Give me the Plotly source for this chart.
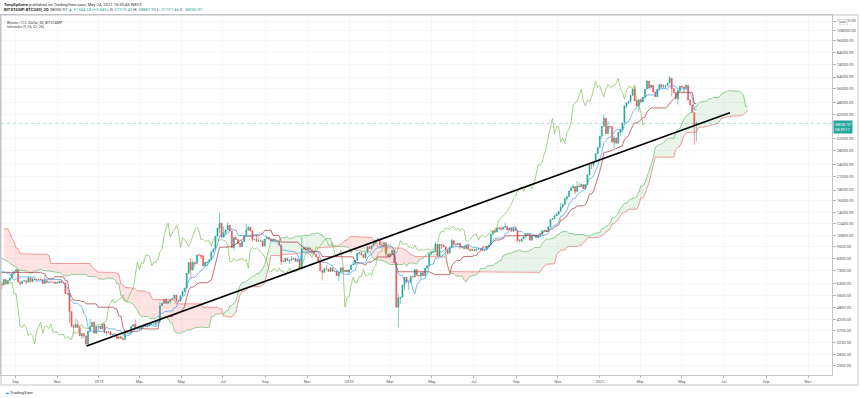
import numpy as np
import pandas as pd
import plotly.graph_objects as go

# ---------------- daily closes (BITSTAMP BTCUSD), read/estimated ----------------
close_2018 = [
    13400,14750,15150,15150,16900,17100,16200,15000,14400,14900,13300,13800,14200,13600,13600,11400,11150,11250,11500,12800,11500,10800,10900,11400,11200,11100,11500,11800,11200,10100,10200,
    9100,8900,9200,8200,6900,7700,7600,8200,8700,8500,8100,8900,8500,9500,10000,10200,11100,10400,11200,11400,10500,9800,10200,9600,9600,10300,10600,10300,
    10900,11000,11400,11500,11500,10700,9900,9300,9200,8800,9500,9100,9100,8200,8250,8300,7900,8200,8600,8900,8900,8700,8900,8550,8450,8150,7800,7950,7100,6850,6950,
    6800,7050,7400,6800,6780,6620,6900,7030,6780,6850,6930,7920,7890,8000,8350,8050,7900,8170,8280,8860,8920,8800,8940,9650,8870,9280,8930,9350,9400,9240,
    9070,9220,9740,9700,9850,9650,9380,9190,9330,9050,8440,8500,8720,8680,8480,8350,8060,8250,8230,8530,8400,8000,7500,7600,7480,7350,7360,7120,7470,7400,7500,
    7530,7640,7720,7500,7630,7650,7680,7630,7500,6780,6890,6550,6310,6640,6400,6500,6450,6710,6740,6770,6720,6050,6170,6150,6250,6090,6150,5880,6200,6390,
    6350,6620,6510,6590,6540,6600,6750,6710,6670,6300,6390,6240,6230,6270,6350,6740,7320,7380,7470,7340,7400,7400,7720,8400,8170,7930,8180,8230,8210,8170,7730,
    7600,7540,7410,7010,7030,6940,6720,6280,6540,6150,6240,6320,6260,6190,6270,6310,6580,6390,6490,6260,6480,6360,6520,6690,6740,6700,6900,7090,7030,6980,7020,
    7190,7280,7260,7360,6720,6500,6400,6180,6250,6300,6280,6330,6480,6500,6520,6500,6250,6340,6390,6490,6740,6710,6700,6580,6430,6460,6690,6630,6600,6620,
    6590,6510,6470,6580,6630,6590,6610,6670,6640,6580,6250,6290,6300,6300,6650,6500,6480,6420,6390,6410,6420,6410,6400,6410,6400,6400,6410,6400,6280,6280,6320,
    6350,6380,6360,6480,6420,6460,6530,6420,6360,6380,6370,6350,6300,5700,5620,5560,5560,5620,4800,4450,4600,4300,4320,3900,4000,3750,3850,4250,4250,3970,
    4200,4140,3830,3940,3750,3500,3380,3420,3590,3470,3420,3500,3260,3210,3190,3200,3520,3680,3760,4130,3870,4000,4000,4080,3770,3800,3600,3870,3830,3880,3690,
]
close_2019 = [
    3830,3900,3780,3800,3790,4060,4000,4000,4010,3620,3620,3580,3500,3670,3590,3620,3650,3600,3700,3530,3550,3580,3560,3580,3560,3560,3530,3430,3400,3460,3430,
    3460,3500,3400,3400,3420,3370,3360,3640,3640,3680,3600,3620,3600,3580,3590,3610,3660,3880,3900,3960,3920,3970,4120,3730,3820,3800,3810,3820,
    3820,3830,3790,3710,3860,3870,3880,3870,3940,3920,3860,3880,3870,3880,3920,4010,3980,3990,4030,4070,3990,4000,4010,3990,3920,3940,4080,4050,4120,4110,4110,
    4150,4900,4970,4900,5040,5050,5200,5290,5200,5320,5040,5080,5080,5160,5030,5220,5270,5290,5280,5330,5290,5390,5540,5440,5060,5200,5190,5180,5160,5320,
    5360,5490,5780,5800,5760,5740,5860,5980,6150,6350,7060,6970,7810,7980,8200,7880,7360,7260,8180,7970,7950,7630,7880,7990,8050,8670,8800,8720,8660,8270,8550,
    8560,8740,8120,7680,7790,7800,7990,7930,7640,8020,7920,8170,8230,8690,8850,8980,9330,9080,9270,9530,10200,10700,10850,11000,11750,12900,11100,12400,11900,10800,
    10600,10800,11980,11150,10980,11250,11480,12300,12550,12100,11350,11800,11370,10200,10850,9430,9670,10630,10530,10760,10600,10330,9880,9800,9900,9860,9470,9540,9520,9590,10080,
    10400,10530,10820,10980,11800,11460,11980,11970,11850,11300,11530,11380,10880,10050,10300,10360,10220,10320,10920,10760,10130,10110,10400,10140,10140,10370,10170,9720,9490,9590,9600,
    9770,10380,10620,10580,10580,10320,10490,10410,10330,10120,10160,10420,10360,10360,10310,10260,10190,10160,10270,10170,9990,10030,9690,8530,8430,8060,8190,8210,8050,8300,
    8310,8370,8230,8150,8150,7870,8210,8180,8590,8590,8270,8340,8300,8370,8170,8000,8100,7950,7960,8240,8230,8030,7470,7440,8660,9250,9550,9230,9430,9180,9160,
    9250,9300,9200,9410,9330,9340,9200,8770,8810,9030,8720,8800,8760,8630,8460,8490,8500,8170,8120,8080,7610,7270,7300,6900,7130,7160,7510,7420,7740,7560,
    7400,7300,7290,7200,7390,7540,7510,7520,7340,7220,7200,7190,7250,7070,7110,6880,6610,7280,7150,7190,7140,7510,7320,7250,7200,7200,7250,7300,7390,7220,7170,
]
close_2020 = [
    7180,6960,7340,7350,7350,7760,8150,8050,7820,8190,8020,8180,8110,8810,8820,8720,8900,8900,8700,8630,8730,8660,8390,8430,8330,8600,8900,9380,9300,9510,9340,
    9380,9330,9290,9180,9620,9760,9800,9900,10160,9860,10270,10350,10240,10360,9900,9930,9700,10180,9600,9600,9690,9670,9960,9660,9300,8780,8800,8700,8530,
    8520,8900,8760,8750,9070,9150,8900,8030,7930,7900,7930,4830,5620,5170,5350,5000,5330,5400,6180,6200,6190,5830,6480,6760,6690,6760,6380,6250,5880,6390,6430,
    6640,6800,6740,6870,6780,7340,7200,7370,7290,6870,6890,6920,6850,6860,6640,7120,7100,7270,7140,6880,6860,7130,7490,7510,7540,7700,7780,7770,8790,8640,
    8830,8970,8900,8890,9030,9150,9980,9810,9540,8720,8560,8810,9310,9790,9320,9380,9670,9730,9780,9510,9060,9170,9180,8720,8900,8840,9200,9570,9430,9700,9450,
    10200,9520,9660,9790,9630,9670,9750,9780,9780,9890,9270,9470,9470,9340,9430,9520,9450,9380,9300,9360,9290,9690,9630,9290,9250,9160,9010,9120,9190,9140,
    9240,9090,9070,9140,9090,9350,9250,9440,9240,9290,9240,9300,9240,9250,9190,9130,9160,9170,9210,9160,9390,9540,9610,9550,9710,9940,11050,10920,11110,11110,11350,
    11800,11070,11230,11190,11740,11770,11600,11750,11680,11880,11400,11570,11780,11770,11860,11910,12300,11950,11740,11870,11520,11680,11650,11750,11330,11460,11330,11540,11480,11700,11650,
    11930,11400,10170,10470,10170,10260,10370,10130,10240,10360,10400,10440,10330,10680,10790,10950,10940,10930,11080,10920,10420,10530,10240,10740,10690,10730,10770,10700,10840,10780,
    10620,10570,10550,10670,10790,10600,10670,10920,11060,11300,11380,11540,11420,11430,11500,11320,11370,11500,11750,11920,12820,12980,12930,13120,13030,13070,13650,13280,13460,13560,13800,
    13760,13550,14030,14150,15590,15590,14840,15480,15330,15310,15700,16290,16330,16070,15960,16720,17660,17800,17820,18680,18700,18420,18370,19160,18730,17150,17140,17720,18180,19700,
    18780,19210,19440,18650,19150,19360,19170,18320,18550,18250,18030,18800,19170,19270,19440,21340,22800,23130,23860,23480,22740,23820,23250,23720,24700,26470,26270,27040,27360,28860,28990,
]
close_2021 = [
    29390,32190,33000,31970,34000,36800,39500,40600,40250,38200,35500,33900,37300,39200,36800,36000,35800,36600,35900,35500,30800,33000,32100,32300,32300,32500,30400,33400,34300,34300,33100,
    33500,35500,37600,36900,38200,39200,38900,46400,46500,44800,48000,47400,47200,48700,47900,49200,52200,51600,55900,56000,57500,54100,48900,49700,47000,46300,46200,45200,
    49600,48400,50400,48400,48800,48900,51000,52300,54900,56000,57800,57200,61200,59000,55600,56900,58900,57600,58300,58100,57400,54100,54300,52300,51300,55000,55800,55800,57600,58800,58800,
    58700,59000,57100,58200,59100,57600,56100,58100,58100,59800,59900,59800,63600,62900,63200,61400,60100,56200,55700,56500,53800,51700,51200,50100,49000,54000,55000,54800,53600,57800,
    57800,56600,57200,53200,57500,56400,57400,58900,58300,55800,56700,49400,49700,49900,46800,46400,43500,42900,37000,40600,37310.43,37500,34700,38050.97,
]

# intraday extremes (wicks)
high_dates = ["2018-01-06","2018-02-20","2018-03-05","2018-05-05","2018-07-24","2018-09-04","2018-10-15",
              "2018-12-20","2019-02-24","2019-04-02","2019-05-16","2019-06-26","2019-08-06","2019-10-26",
              "2020-02-13","2020-05-08","2020-06-01","2020-08-17","2020-12-01","2021-01-08","2021-02-21",
              "2021-03-13","2021-04-14","2021-05-24"]
high_vals = [17250,11790,11700,9990,8490,7410,6900,4230,4200,5100,8380,13880,12300,10540,
             10520,10070,10430,12480,19900,41950,58350,61700,64900,38887.99]
low_dates = ["2018-01-17","2018-02-06","2018-04-01","2018-06-24","2018-08-14","2018-11-20","2018-11-25",
             "2018-12-15","2019-05-17","2019-07-17","2019-09-26","2019-11-25","2019-12-18","2020-03-13",
             "2021-01-22","2021-02-28","2021-04-18","2021-04-25","2021-05-19","2021-05-23"]
low_vals = [9200,6000,6430,5780,5880,4050,3550,3122,6600,9070,7750,6530,6440,3850,
            28800,43000,51500,47000,30000,31107.46]

# trend line drawn on the chart
trend_dates = ["2018-12-14", "2021-07-10"]
trend_prices = [3120, 42900]

last_price = 38050.97
y_ticks = [2200,2500,2850,3250,3700,4200,4800,5500,6300,7300,8300,9500,10800,12400,14000,16000,
           18000,21000,24000,28000,32000,42000,48000,56000,64000,74000,84000,96000,108000,120000]
x_tick_dates = ["2018-09-01","2018-11-01","2019-01-01","2019-03-01","2019-05-01","2019-07-01","2019-09-01",
                "2019-11-01","2020-01-01","2020-03-01","2020-05-01","2020-07-01","2020-09-01","2020-11-01",
                "2021-01-01","2021-03-01","2021-05-01","2021-07-01","2021-09-01","2021-11-01"]
x_tick_text = ["Sep","Nov","2019","Mar","May","Jul","Sep","Nov","2020","Mar","May","Jul","Sep","Nov",
               "2021","Mar","May","Jul","Sep","Nov"]

# ---------------- build 3D candles ----------------
daily = close_2018 + close_2019 + close_2020 + close_2021
dates = pd.date_range("2018-01-01", periods=len(daily), freq="D")
s = pd.Series(daily, index=dates, dtype=float)
hi = s.copy()
lo = s.copy()
for d, v in zip(high_dates, high_vals):
    t = pd.Timestamp(d)
    hi[t] = max(hi[t], v)
for d, v in zip(low_dates, low_vals):
    t = pd.Timestamp(d)
    lo[t] = min(lo[t], v)
prev = s.shift(1)
dh = pd.concat([prev, hi], axis=1).max(axis=1)
dl = pd.concat([prev, lo], axis=1).min(axis=1)
anchor = pd.Timestamp("2021-05-22")
k = np.floor((dates - anchor).days / 3).astype(int)
bins = anchor + pd.to_timedelta(k * 3, unit="D")
df = pd.DataFrame({"c": s.values, "o": prev.values, "h": dh.values, "l": dl.values, "b": bins})
g = df.groupby("b")
O = g["o"].first()
C = g["c"].last()
H = g["h"].max()
L = g["l"].min()
O = O.fillna(C)
bar_dates = list(O.index)

# ---------------- Ichimoku (9, 26, 52, 26) ----------------
def donch(n):
    return (H.rolling(n).max() + L.rolling(n).min()) / 2

conv = donch(9)
base = donch(26)
leadA = ((conv + base) / 2).values
leadB = donch(52).values
disp = 25
future = [bar_dates[-1] + pd.Timedelta(days=3 * (i + 1)) for i in range(disp)]
all_dates = bar_dates + future
lead_x = all_dates[disp:disp + len(bar_dates)]
lag_x = bar_dates[:len(bar_dates) - disp]
lag_y = C.values[disp:]

UP = "#26a69a"
DN = "#ef5350"

fig = go.Figure()

# cloud fill polygons
def cloud_polys(xs, a, b):
    green_x, green_y, red_x, red_y = [], [], [], []
    xs_num = np.array([pd.Timestamp(x).value for x in xs], dtype=float)
    valid = ~(np.isnan(a) | np.isnan(b))
    idx = np.where(valid)[0]
    la, lb = np.log10(a), np.log10(b)
    seg_x, seg_a, seg_b = [], [], []
    cur = None

    def flush(sign):
        if len(seg_x) < 2:
            return
        px = seg_x + seg_x[::-1]
        py = seg_a + seg_b[::-1]
        tx = [pd.Timestamp(int(v)) for v in px]
        if sign >= 0:
            green_x.extend(tx + [None]); green_y.extend(py + [None])
        else:
            red_x.extend(tx + [None]); red_y.extend(py + [None])

    for j, i in enumerate(idx):
        sign = 1 if la[i] >= lb[i] else -1
        if cur is None:
            cur = sign
        if sign != cur and j > 0:
            ip = idx[j - 1]
            d0 = la[ip] - lb[ip]
            d1 = la[i] - lb[i]
            t = d0 / (d0 - d1)
            xc = xs_num[ip] + t * (xs_num[i] - xs_num[ip])
            yc = 10 ** (la[ip] + t * (la[i] - la[ip]))
            seg_x.append(xc); seg_a.append(yc); seg_b.append(yc)
            flush(cur)
            seg_x, seg_a, seg_b = [xc], [yc], [yc]
            cur = sign
        seg_x.append(xs_num[i]); seg_a.append(a[i]); seg_b.append(b[i])
    flush(cur)
    return green_x, green_y, red_x, red_y

gx, gy, rx, ry = cloud_polys(lead_x, leadA, leadB)
fig.add_trace(go.Scatter(x=gx, y=gy, fill="toself", mode="none",
                         fillcolor="rgba(76,175,80,0.13)", hoverinfo="skip"))
fig.add_trace(go.Scatter(x=rx, y=ry, fill="toself", mode="none",
                         fillcolor="rgba(244,67,54,0.14)", hoverinfo="skip"))

fig.add_trace(go.Scatter(x=lead_x, y=leadA, mode="lines",
                         line=dict(color="#66bb6a", width=0.7)))
fig.add_trace(go.Scatter(x=lead_x, y=leadB, mode="lines",
                         line=dict(color="#f07070", width=0.7)))
fig.add_trace(go.Scatter(x=lag_x, y=lag_y, mode="lines",
                         line=dict(color="#7cbf5a", width=0.7)))
fig.add_trace(go.Scatter(x=bar_dates, y=base.values, mode="lines",
                         line=dict(color="#a83232", width=0.7)))
fig.add_trace(go.Scatter(x=bar_dates, y=conv.values, mode="lines",
                         line=dict(color="#3d9be9", width=0.7)))

fig.add_trace(go.Candlestick(
    x=bar_dates, open=O.values, high=H.values, low=L.values, close=C.values,
    increasing=dict(line=dict(color=UP, width=0.6), fillcolor=UP),
    decreasing=dict(line=dict(color=DN, width=0.6), fillcolor=DN),
    whiskerwidth=0, hoverinfo="skip"))

x0, x1 = "2018-08-11", "2021-12-06"
fig.add_trace(go.Scatter(x=[x0, x1], y=[last_price, last_price], mode="lines",
                         line=dict(color="rgba(38,166,154,0.6)", width=0.6, dash="dot")))
fig.add_trace(go.Scatter(x=trend_dates, y=trend_prices, mode="lines",
                         line=dict(color="#000000", width=1.7)))

ylo, yhi = np.log10(2254), np.log10(128500)
FONT = "Roboto, Arial, sans-serif"

fig.update_layout(
    width=860, height=398,
    margin=dict(l=1, r=28, t=15, b=23),
    paper_bgcolor="white", plot_bgcolor="white",
    showlegend=False,
    font=dict(family=FONT, size=4, color="#555"),
    xaxis=dict(type="date", range=[x0, x1], rangeslider=dict(visible=False),
               tickmode="array", tickvals=x_tick_dates, ticktext=x_tick_text,
               showgrid=True, gridcolor="#eef1f6", gridwidth=0.6,
               showline=True, linecolor="#c2c4c8", linewidth=1, mirror=True,
               ticks="outside", ticklen=2, tickcolor="#b0b3b8",
               tickfont=dict(size=4, color="#555"), zeroline=False),
    yaxis=dict(type="log", range=[ylo, yhi], side="right",
               tickmode="array", tickvals=y_ticks, ticktext=[f"{v:.2f}" for v in y_ticks],
               showgrid=True, gridcolor="#eef1f6", gridwidth=0.6,
               showline=True, linecolor="#c2c4c8", linewidth=1, mirror=True,
               ticks="outside", ticklen=3, tickcolor="#b0b3b8",
               tickfont=dict(size=4, color="#555"), zeroline=False),
)

# outer frame around plot + axes
fig.add_shape(type="rect", xref="paper", yref="paper", x0=0, x1=857 / 831, y0=-10 / 360, y1=1,
              line=dict(color="#c2c4c8", width=1), fillcolor="rgba(0,0,0,0)")

ann = []
ann.append(dict(xref="paper", yref="paper", x=0, y=(375 - 4) / 360, xanchor="left", yanchor="middle",
                xshift=1, showarrow=False, font=dict(size=4.2, color="#333", family=FONT),
                text="<b>TonySpilotro</b> published on TradingView.com, May 24, 2021 16:30:45 WEST"))
G = "#26a69a"
line2 = ("<b>BITSTAMP:BTCUSD, 3D</b> 38050.97 <span style='color:%s'>▲ +1344.18 (+3.64%%)</span> "
         "O: <span style='color:%s'>37310.43</span> H: <span style='color:%s'>38887.99</span> "
         "L: <span style='color:%s'>31107.46</span> C: <span style='color:%s'>38050.97</span>") % (G, G, G, G, G)
ann.append(dict(xref="paper", yref="paper", x=0, y=(375 - 9.5) / 360, xanchor="left", yanchor="middle",
                xshift=1, showarrow=False, font=dict(size=4.2, color="#333", family=FONT), text=line2))
ann.append(dict(xref="paper", yref="paper", x=0, y=(375 - 22.5) / 360, xanchor="left", yanchor="middle",
                xshift=4, showarrow=False, font=dict(size=3.6, color="#444", family=FONT),
                text="Bitcoin / U.S. Dollar, 3D, BITSTAMP"))
ann.append(dict(xref="paper", yref="paper", x=0, y=(375 - 27.5) / 360, xanchor="left", yanchor="middle",
                xshift=4, showarrow=False, font=dict(size=3.6, color="#444", family=FONT),
                text="Ichimoku (9, 26, 52, 26)"))
ann.append(dict(xref="paper", yref="y", x=1, y=np.log10(last_price), xanchor="left", yanchor="top",
                xshift=1, yshift=3, showarrow=False, bgcolor=UP, borderpad=1,
                font=dict(size=3.8, color="white", family=FONT), align="left",
                text="38050.97<br>08:29:17"))
ann.append(dict(xref="paper", yref="paper", x=1, y=(375 - 21.5) / 360, xanchor="left", yanchor="middle",
                xshift=7, showarrow=False, bgcolor="white", bordercolor="#c8c8c8", borderwidth=0.5,
                borderpad=0.5, font=dict(size=3.2, color="#555", family=FONT), text="auto"))
ann.append(dict(xref="paper", yref="paper", x=0, y=(375 - 392) / 360, xanchor="left", yanchor="middle",
                xshift=2, showarrow=False, font=dict(size=4.2, color="#333", family=FONT),
                text="<span style='color:#2196f3'>☁</span> TradingView"))
fig.update_layout(annotations=ann)

fig.write_html(
    "out.html",
    config={"displayModeBar": False, "staticPlot": True},
    post_script="document.body.style.margin='0';document.body.style.padding='0';"
                "document.documentElement.style.overflow='hidden';",
)
